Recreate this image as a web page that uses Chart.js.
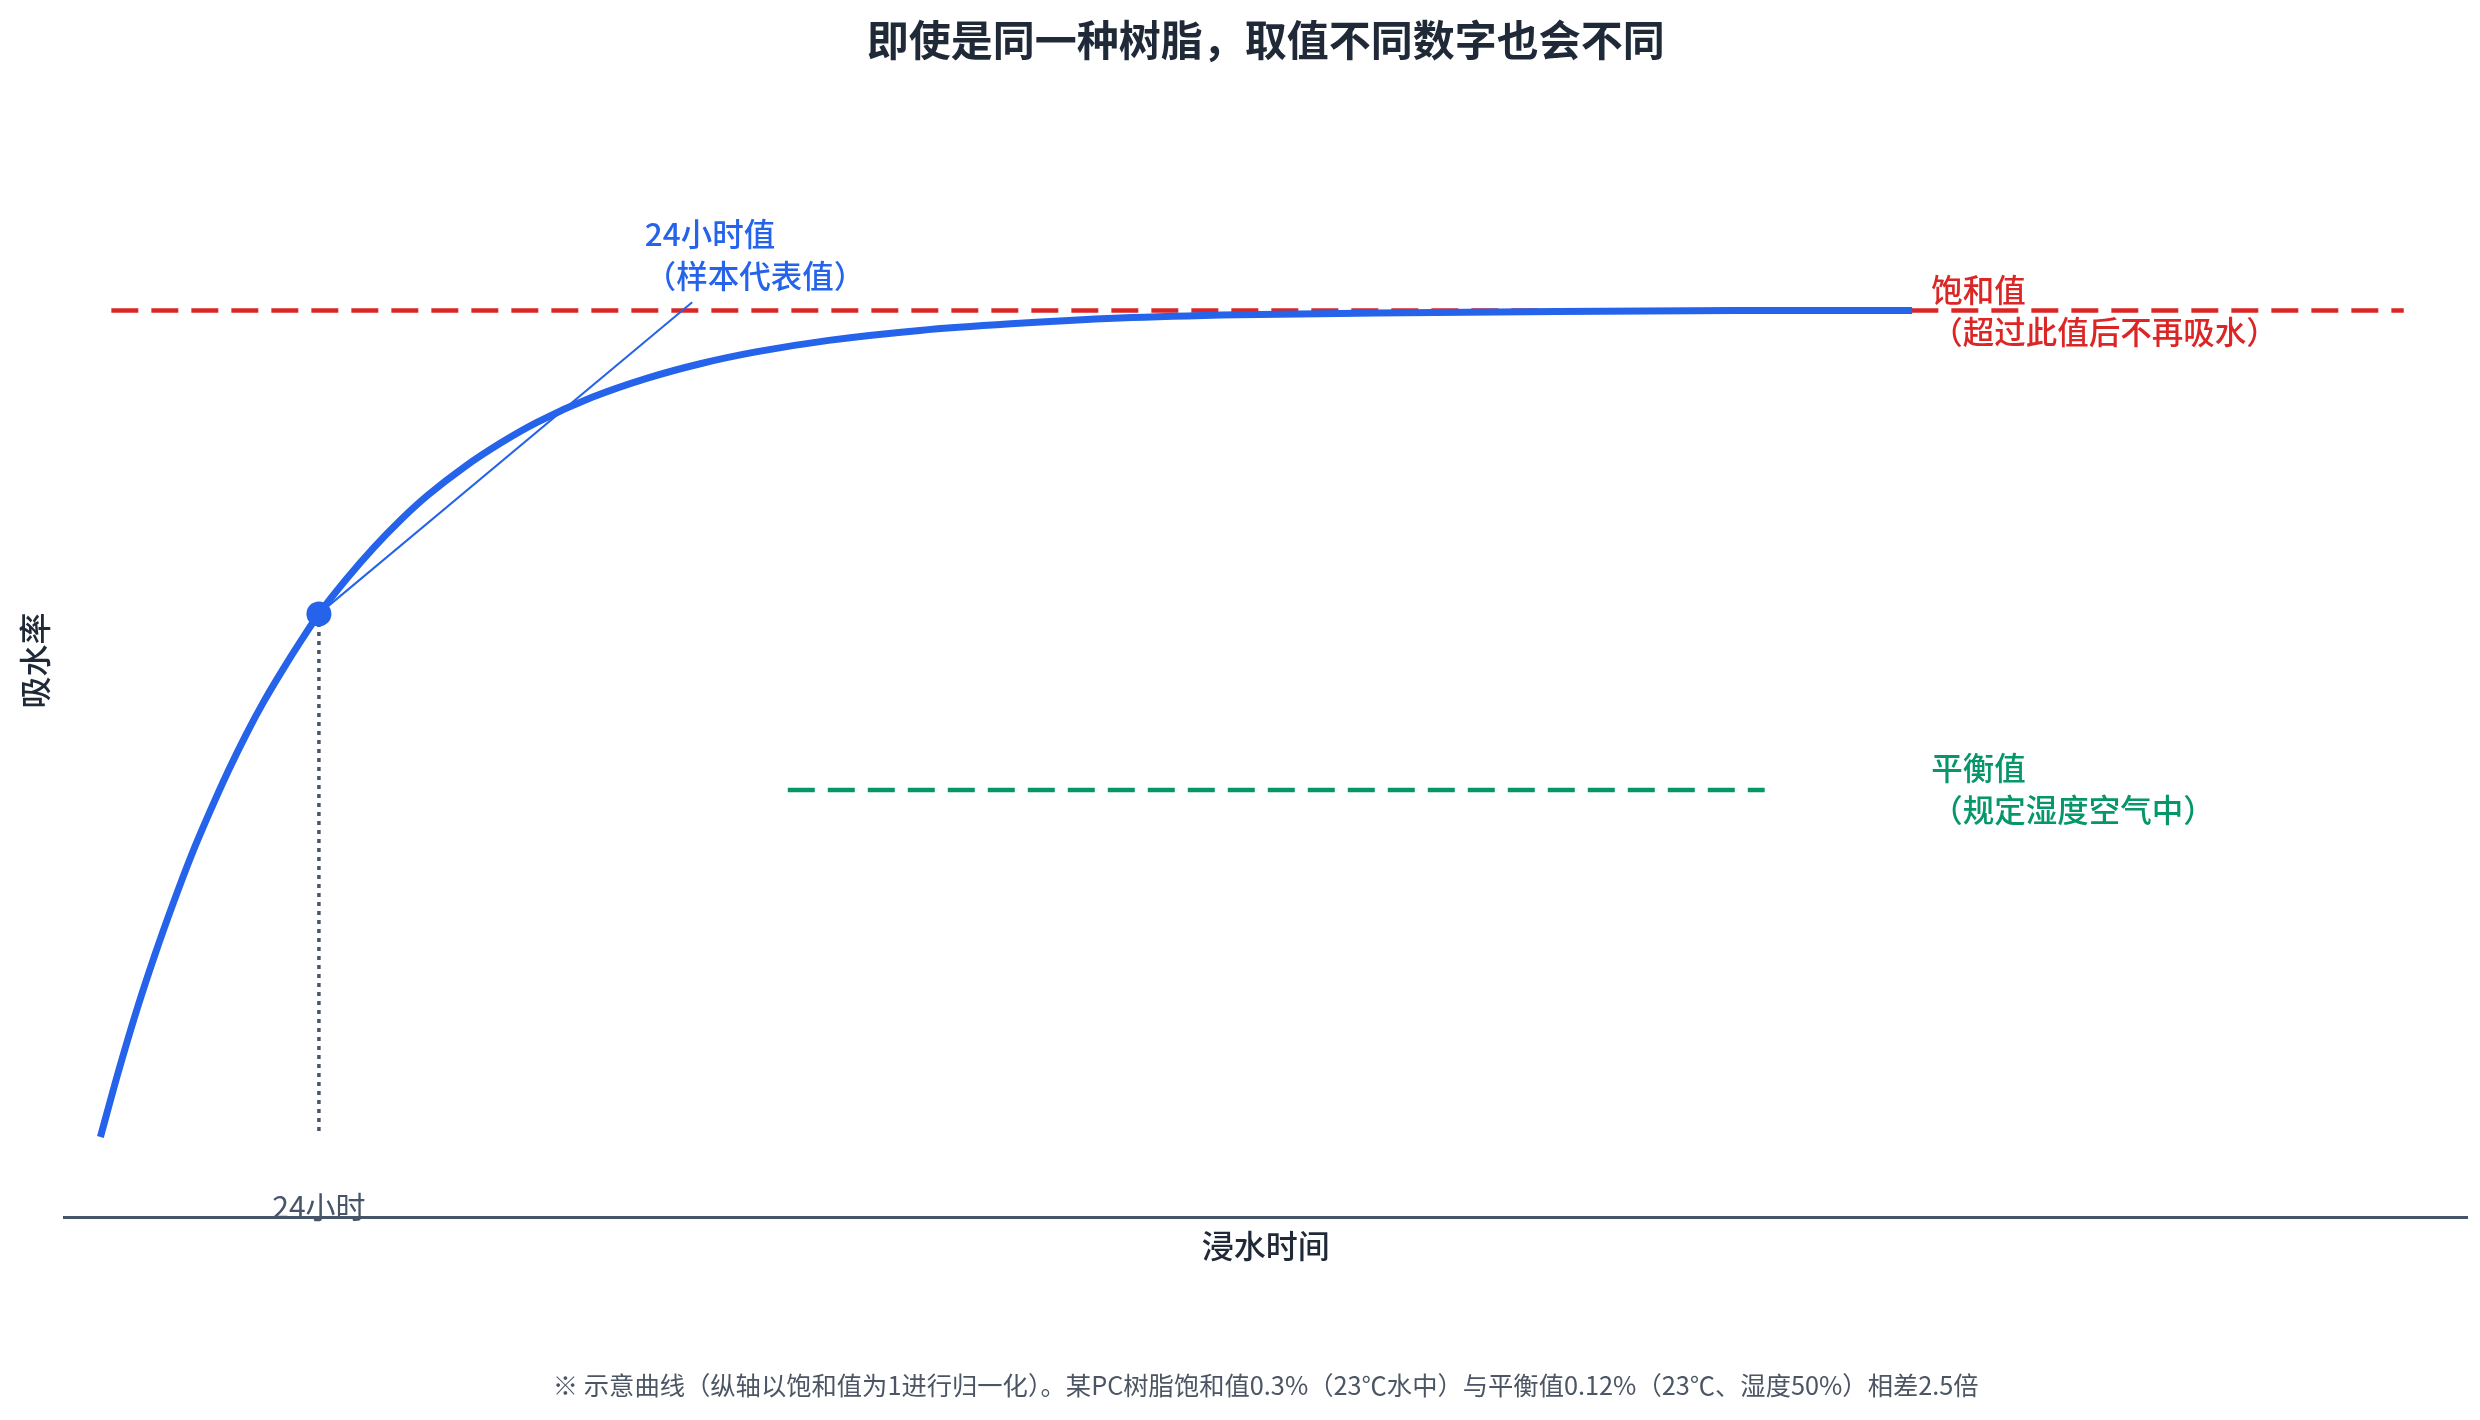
<!DOCTYPE html>
<html lang="zh-CN">
<head>
  <meta charset="UTF-8">
  <title>即使是同一种树脂，取值不同数字也会不同</title>
  <script src="https://cdn.jsdelivr.net/npm/chart.js"></script>
  <style>
    body { margin: 0; background: #ffffff; }
  </style>
</head>
<body>

  <div style="width: 2480px; height: 1420px;">
    <canvas id="chart"></canvas>
  </div>

  <script>

    /* Values: hours in water, absorption normalised to saturation = 1. */
    const curveHours = [0, 2, 4, 6, 8, 10, 12, 14, 16, 18, 20, 22, 24, 27, 30, 33, 36, 40, 44, 48,
      54, 60, 66, 72, 80, 90, 100, 112, 125, 140, 160, 180, 199]
    const curveValues = [0, 0.080, 0.154, 0.221, 0.283, 0.341, 0.393, 0.442, 0.487, 0.528, 0.565, 0.600, 0.633,
      0.675, 0.713, 0.747, 0.777, 0.811, 0.840, 0.865, 0.895, 0.918, 0.936, 0.950, 0.964, 0.976, 0.984,
      0.991, 0.995, 0.997, 0.999, 1.0, 1.0]

    const saturationHours = [1.2, 253]
    const saturationValue = 1.0
    const equilibriumHours = [75.5, 182.8]
    const equilibriumValue = 0.42

    const sampleHour = 24
    const sampleValue = 0.633
    const leaderEnd = [65, 1.01]

    const xTickValues = [24]
    const xTickLabels = ["24小时"]

    const titleText = "即使是同一种树脂，取值不同数字也会不同"
    const xTitle = "浸水时间"
    const yTitle = "吸水率"
    const footnote = "※ 示意曲线（纵轴以饱和值为1进行归一化）。某PC树脂饱和值0.3%（23℃水中）与平衡值0.12%（23℃、湿度50%）相差2.5倍"

    const sampleNote = ["24小时值", "（样本代表值）"]
    const saturationNote = ["饱和值", "（超过此值后不再吸水）"]
    const equilibriumNote = ["平衡值", "（规定湿度空气中）"]


    const FONT = '"Noto Sans CJK SC", "Noto Sans", sans-serif'
    Chart.defaults.font.family = FONT

    const toPoints = (xs, ys) => xs.map((x, i) => ({ x: x, y: Array.isArray(ys) ? ys[i] : ys }))

    /* Annotation texts and the x tick label, placed through the scales. */
    const notesPlugin = {
      id: "notes",
      afterDatasetsDraw(chart) {
        const { ctx, scales: { x, y } } = chart
        const notes = [
          { lines: sampleNote, color: "#2563eb", px: x.getPixelForValue(59.8), py: y.getPixelForValue(1.067) },
          { lines: saturationNote, color: "#dc2626", px: x.getPixelForValue(201.1), py: y.getPixelForValue(saturationValue) },
          { lines: equilibriumNote, color: "#059669", px: x.getPixelForValue(201.1), py: y.getPixelForValue(0.421) },
        ]
        ctx.save()
        ctx.font = "500 31.5px " + FONT
        ctx.textAlign = "left"
        ctx.textBaseline = "middle"
        notes.forEach(note => {
          ctx.fillStyle = note.color
          const n = note.lines.length
          note.lines.forEach((line, i) => {
            ctx.fillText(line, note.px, note.py + (i - (n - 1) / 2) * 42)
          })
        })
        ctx.restore()
      },
      afterDraw(chart) {
        const { ctx, chartArea, scales: { x } } = chart
        ctx.save()
        ctx.font = "30px " + FONT
        ctx.fillStyle = "#475569"
        ctx.textAlign = "center"
        ctx.textBaseline = "middle"
        xTickValues.forEach((v, i) => {
          ctx.fillText(xTickLabels[i], x.getPixelForValue(v), chartArea.bottom - 11)
        })
        ctx.restore()
      }
    }

    const ctx = document.getElementById("chart").getContext("2d")
    const chart = new Chart(ctx, {
      type: "line",
      data: {
        datasets: [
          {
            data: [{ x: sampleHour, y: sampleValue }],
            showLine: false,
            pointRadius: 12.5,
            pointBackgroundColor: "#2563eb",
            pointBorderWidth: 0,
          },
          {
            data: toPoints(curveHours, curveValues),
            borderColor: "#2563eb",
            borderWidth: 7,
            pointRadius: 0,
            cubicInterpolationMode: "monotone",
          },
          {
            data: [{ x: sampleHour, y: sampleValue }, { x: leaderEnd[0], y: leaderEnd[1] }],
            borderColor: "#2563eb",
            borderWidth: 2,
            pointRadius: 0,
          },
          {
            data: [{ x: sampleHour, y: sampleValue }, { x: sampleHour, y: 0.003 }],
            borderColor: "#475569",
            borderWidth: 3.5,
            borderDash: [4, 5],
            pointRadius: 0,
          },
          {
            data: toPoints(saturationHours, saturationValue),
            borderColor: "#dc2626",
            borderWidth: 4.5,
            borderDash: [27, 13],
            pointRadius: 0,
          },
          {
            data: toPoints(equilibriumHours, equilibriumValue),
            borderColor: "#059669",
            borderWidth: 4.5,
            borderDash: [27, 13],
            pointRadius: 0,
          },
        ]
      },
      options: {
        responsive: true,
        maintainAspectRatio: false,
        devicePixelRatio: 1,
        animation: false,
        layout: { padding: { left: 0, right: 6, top: 0, bottom: 0 } },
        plugins: {
          legend: { display: false },
          tooltip: { enabled: false },
          title: {
            display: true,
            fullSize: false,
            text: titleText,
            color: "#1f2937",
            font: { size: 42, weight: "bold" },
            padding: { top: 14.8, bottom: 38.8 },
          },
          subtitle: {
            display: true,
            fullSize: false,
            position: "bottom",
            text: footnote,
            color: "#4b5563",
            font: { size: 25.3 },
            padding: { top: 0, bottom: 19.5 },
          },
        },
        scales: {
          x: {
            type: "linear",
            min: -4,
            max: 260,
            grid: { display: false, drawTicks: false },
            border: { display: true, color: "#475569", width: 3 },
            afterFit: scale => { scale.height = 153 },
            ticks: { display: false },
            title: {
              display: true,
              text: xTitle,
              color: "#1f2937",
              font: { size: 32, weight: "500" },
              padding: { top: 0, bottom: 104.8 },
            },
          },
          y: {
            type: "linear",
            min: -0.097,
            max: 1.25,
            grid: { display: false },
            border: { display: false },
            ticks: { display: false },
            afterFit: scale => { scale.width = 64 },
            title: {
              display: true,
              text: yTitle,
              color: "#1f2937",
              font: { size: 32, weight: "500" },
              padding: { top: 15.8, bottom: 0 },
            },
          },
        },
      },
      plugins: [notesPlugin],
    })

  </script>

</body>
</html>
